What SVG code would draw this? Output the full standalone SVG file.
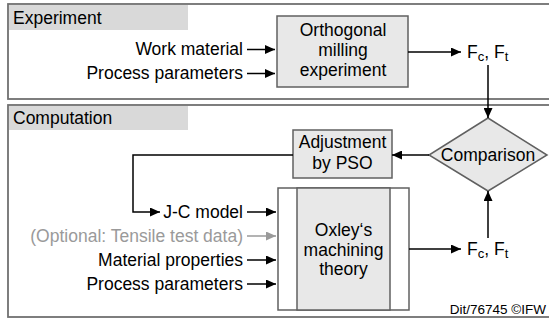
<svg xmlns="http://www.w3.org/2000/svg" width="549" height="320" viewBox="0 0 549 320">
<style>
.panel{fill:#fff;stroke:#707070;stroke-width:1.8}
.band{fill:#d9d9d9}
.box{fill:#e8e8e8;stroke:#606060;stroke-width:1.5}
.t{font-family:"Liberation Sans",Arial,sans-serif;font-size:17.5px;fill:#000}
.c{text-anchor:middle}
.e{text-anchor:end}
.g{fill:#9a9a9a}
.sub{font-size:13px}
.ln{fill:none;stroke:#000;stroke-width:1.5}
.lg{fill:none;stroke:#9a9a9a;stroke-width:1.5}
.small{font-family:"Liberation Sans",Arial,sans-serif;font-size:13.5px;fill:#000;text-anchor:end}
</style>
<defs>
<marker id="ah" markerUnits="userSpaceOnUse" markerWidth="10" markerHeight="9" refX="10" refY="4.5" orient="auto">
<path d="M0,0 L10,4.5 L0,9 z" fill="#000"/>
</marker>
<marker id="ahg" markerUnits="userSpaceOnUse" markerWidth="10" markerHeight="9" refX="10" refY="4.5" orient="auto">
<path d="M0,0 L10,4.5 L0,9 z" fill="#9a9a9a"/>
</marker>
</defs>

<g id="panel-experiment">
<rect class="panel" x="8" y="4" width="546" height="95"/>
<rect class="band" x="9" y="5" width="179" height="25"/>
<text class="t" x="13" y="23.5">Experiment</text>
</g>

<g id="panel-computation">
<rect class="panel" x="8" y="105" width="546" height="212"/>
<rect class="band" x="9" y="106" width="179" height="24"/>
<text class="t" x="13" y="124">Computation</text>
</g>

<g id="node-milling">
<rect class="box" x="277" y="16" width="131" height="71"/>
<text class="t c" x="343" y="36">Orthogonal</text>
<text class="t c" x="343" y="56">milling</text>
<text class="t c" x="343" y="76">experiment</text>
</g>

<g id="node-forces-exp">
<text class="t" x="467" y="58">F<tspan class="sub" dy="3">c</tspan><tspan dy="-3">, F</tspan><tspan class="sub" dy="3">t</tspan></text>
</g>

<g id="node-comparison">
<polygon class="box" points="488,118 547,155 488,191 429,155"/>
<text class="t c" x="488" y="161">Comparison</text>
</g>

<g id="node-pso">
<rect class="box" x="293" y="130" width="99" height="48"/>
<text class="t c" x="342.5" y="148">Adjustment</text>
<text class="t c" x="342.5" y="169">by PSO</text>
</g>

<g id="node-oxley">
<rect x="278" y="188" width="131" height="122" fill="#fff" stroke="#606060" stroke-width="1.5"/>
<rect x="297" y="188" width="93" height="122" fill="#e8e8e8" stroke="#606060" stroke-width="1.5"/>
<text class="t c" x="343.5" y="236">Oxley‘s</text>
<text class="t c" x="343.5" y="255.5">machining</text>
<text class="t c" x="343.5" y="275">theory</text>
</g>

<g id="node-forces-sim">
<text class="t" x="467" y="255">F<tspan class="sub" dy="3">c</tspan><tspan dy="-3">, F</tspan><tspan class="sub" dy="3">t</tspan></text>
</g>

<g id="labels">
<text class="t e" x="243" y="55">Work material</text>
<text class="t e" x="243" y="79">Process parameters</text>
<text class="t e" x="243" y="218">J-C model</text>
<text class="t e g" x="243" y="242">(Optional: Tensile test data)</text>
<text class="t e" x="243" y="266">Material properties</text>
<text class="t e" x="243" y="290">Process parameters</text>
<text class="small" x="546" y="314">Dit/76745 ©IFW</text>
</g>

<g id="connectors">
<line class="ln" x1="247" y1="49.5" x2="275" y2="49.5" marker-end="url(#ah)"/>
<line class="ln" x1="247" y1="73.5" x2="275" y2="73.5" marker-end="url(#ah)"/>
<line class="ln" x1="408" y1="52" x2="461" y2="52" marker-end="url(#ah)"/>
<line class="ln" x1="488" y1="65" x2="488" y2="118" marker-end="url(#ah)"/>
<line class="ln" x1="429" y1="155" x2="392" y2="155" marker-end="url(#ah)"/>
<polyline class="ln" points="293,155 133,155 133,212 160,212" marker-end="url(#ah)"/>
<line class="ln" x1="247" y1="212" x2="276" y2="212" marker-end="url(#ah)"/>
<line class="lg" x1="247" y1="236" x2="276" y2="236" marker-end="url(#ahg)"/>
<line class="ln" x1="247" y1="260" x2="276" y2="260" marker-end="url(#ah)"/>
<line class="ln" x1="247" y1="284" x2="276" y2="284" marker-end="url(#ah)"/>
<line class="ln" x1="409" y1="249" x2="461" y2="249" marker-end="url(#ah)"/>
<line class="ln" x1="488" y1="238" x2="488" y2="191" marker-end="url(#ah)"/>
</g>
</svg>
